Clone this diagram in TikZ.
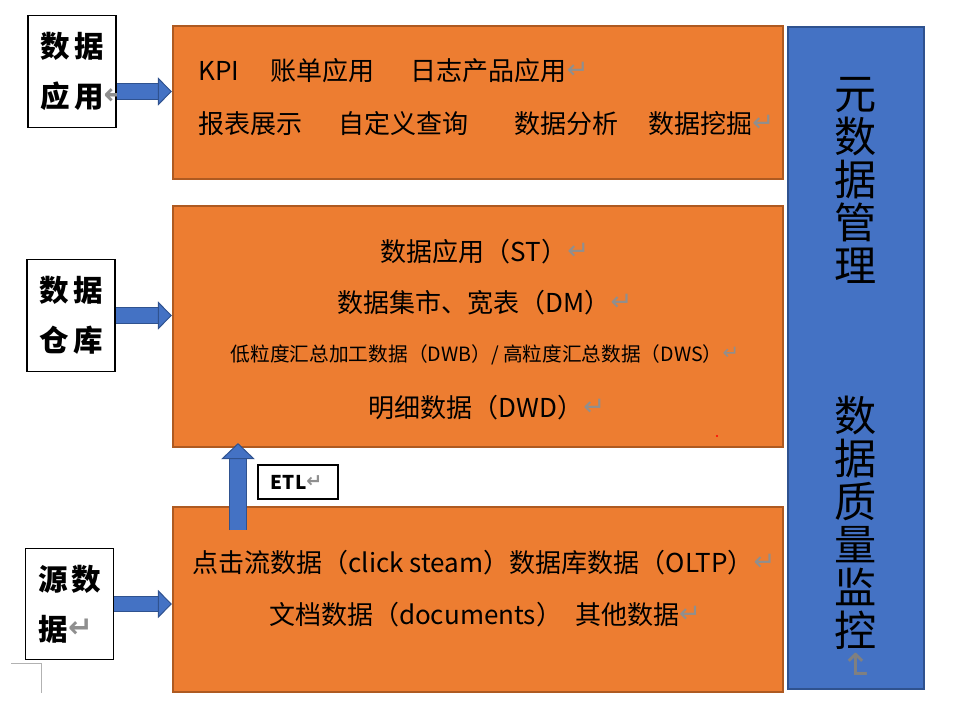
\documentclass[tikz,border=0pt]{standalone}
\usepackage{fontspec}
\setmainfont{Noto Sans CJK SC}
\newfontfamily\retfont{DejaVu Sans}
\usetikzlibrary{arrows.meta,fit}
\definecolor{layerfill}{HTML}{ED7D31}
\definecolor{layeredge}{HTML}{AE5A21}
\definecolor{metafill}{HTML}{4472C4}
\definecolor{metaedge}{HTML}{2F528F}
\definecolor{retgray}{HTML}{8F8F8F}
\newcommand{\retmark}{{\retfont\color{retgray}\raisebox{0.1em}{↵}}}
\newcommand{\tagsp}{\kern2.5pt}
\begin{document}
\begin{tikzpicture}[x=0.025cm, y=-0.025cm, font=\fontsize{18.5}{22}\selectfont,
    every node/.style={inner sep=0pt},
    layer/.style={draw=layeredge, fill=layerfill, line width=1.5pt, inner sep=0pt},
    metabar/.style={draw=metaedge, fill=metafill, line width=1.5pt, inner sep=0pt},
    tagbox/.style={draw=black, fill=white, line width=0.8pt, align=left, inner xsep=0.325cm,
      text width=1.55cm, minimum width=2.2cm, minimum height=2.79cm,
      font=\fontsize{21}{35.5}\selectfont\bfseries},
    etlbox/.style={draw=black, fill=white, line width=0.8pt, align=left, inner xsep=0.325cm,
      text width=1.35cm, minimum width=2cm, minimum height=0.85cm,
      font=\fontsize{13.5}{15}\selectfont\bfseries},
    flow/.style={draw=metafill, line width=10pt,
      -{Triangle[length=10pt, width=20pt, line width=0.7pt, color=metaedge, fill=metafill]},
      preaction={draw=metaedge, line width=11.4pt, -, shorten >=9pt}},
    upflow/.style={draw=metafill, line width=12pt,
      -{Triangle[length=11.5pt, width=24pt, line width=0.7pt, color=metaedge, fill=metafill]},
      preaction={draw=metaedge, line width=13.4pt, -, shorten >=10.5pt}}]
  \useasboundingbox (0,0) rectangle (962,703);

  % 三层与右侧的管理栏
  \node[layer, fit={(173,26) (783,179)}] (appbox) {};
  \node[layer, fit={(173,206) (783,447)}] (whbox) {};
  \node[layer, fit={(173,507) (783,692)}] (srcbox) {};
  \node[metabar, fit={(788,27) (924,689)}] (metabox) {};

  % 数据应用
  \node[anchor=west] (approw1) at (198,71) {KPI\hspace{1.2em}账单应用\hspace{1.4em}日志产品应用\retmark};
  \node[anchor=west] (approw2) at (198,124) {报表展示\hspace{1.4em}自定义查询\hspace{1.75em}数据分析\hspace{1.15em}数据挖掘\retmark};

  % 数据仓库
  \node (whrow1) at (485,252) {数据应用（ST）\retmark};
  \node (whrow2) at (485,303) {数据集市、宽表（DM）\retmark};
  \node[font=\fontsize{14}{17}\selectfont] (whrow3) at (485,355) {低粒度汇总加工数据（DWB）/ 高粒度汇总数据（DWS）\retmark};
  \node (whrow4) at (487,408) {明细数据（DWD）\retmark};
  \fill[red] (717,436) circle (0.8pt);

  % 源数据
  \node (srcrow1) at (484,563) {点击流数据（click steam）数据库数据（OLTP）\retmark};
  \node (srcrow2) at (485,615) {文档数据（documents）\hspace{0.5em}其他数据\retmark};

  % 元数据管理 / 数据质量监控
  \node[font=\fontsize{30}{30.6}\selectfont, align=center] (metatop) at (856,180) {元\\数\\据\\管\\理};
  \node[font=\fontsize{30}{30.6}\selectfont, align=center] (metabot) at (856,523) {数\\据\\质\\量\\监\\控};
  \node[font=\fontsize{26}{28}\selectfont, rotate=-90] (metaret) at (856,667) {{\retfont\color{gray}↵}};

  % 左侧标签
  \node[tagbox] (apptag) at (72,71.5) {数\tagsp 据\\应\tagsp 用\retmark};
  \node[tagbox] (whtag) at (71,315.5) {数\tagsp 据\\仓\tagsp 库};
  \node[tagbox] (srctag) at (69.5,604) {源\tagsp 数\\据\retmark};
  \draw[gray!60, line width=0.6pt] (11,663) -| (41,693);

  % 箭头
  \coordinate (appout) at ([yshift=-0.5cm]apptag.east);
  \draw[flow] (appout) -- (appout -| appbox.west);
  \draw[flow] (whtag.east) -- (whtag.east -| whbox.west);
  \draw[flow] (srctag.east) -- (srctag.east -| srcbox.west);
  \coordinate (etlfoot) at (238,530);
  \coordinate (etltip) at ([yshift=0.125cm]whbox.south -| etlfoot);
  \draw[upflow] (etlfoot) -- (etltip);
  \node[etlbox] (etl) at (298,482) {ETL\retmark};
\end{tikzpicture}
\end{document}
